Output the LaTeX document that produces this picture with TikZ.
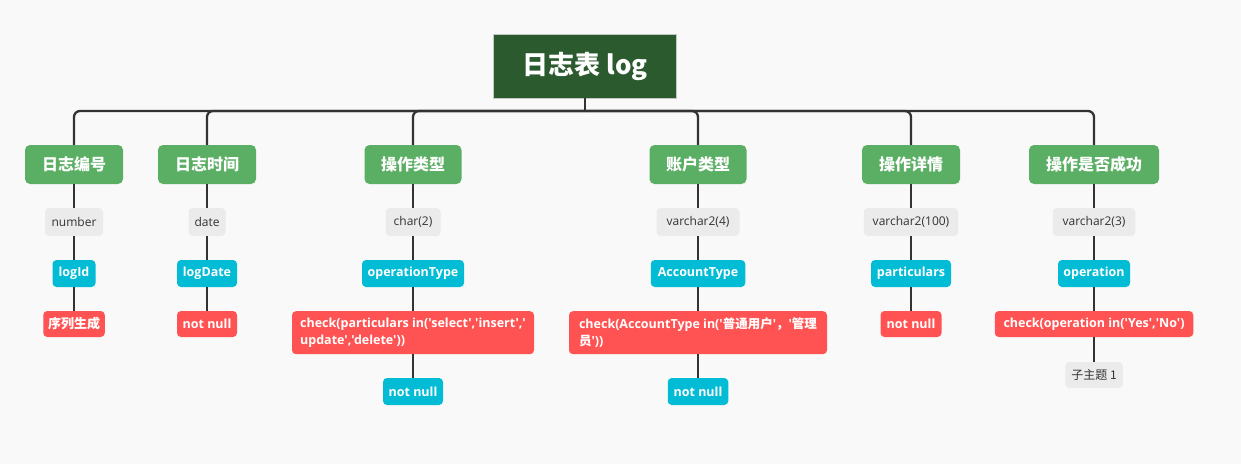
\documentclass[tikz,border=0pt]{standalone}
\usepackage{fontspec}
\newfontfamily\lat{Open Sans}
\newfontfamily\cjk{Noto Sans CJK SC}
\definecolor{bgc}{HTML}{F9F9F9}
\definecolor{rootc}{HTML}{2B5A2E}
\definecolor{greenc}{HTML}{5BAF64}
\definecolor{cyanc}{HTML}{02BCD6}
\definecolor{redc}{HTML}{FF5353}
\definecolor{grayc}{HTML}{EBEBEB}
\definecolor{txtc}{HTML}{333333}
\definecolor{linec}{HTML}{333333}
\begin{document}
\begin{tikzpicture}[x=1pt,y=-1pt,
  base/.style={inner sep=0pt, rounded corners=4pt, align=center},
  rootbox/.style={fill=rootc, draw=gray!45, line width=0.6pt, text=white, minimum width=183pt, minimum height=64pt, inner sep=0pt, font=\cjk\bfseries\fontsize{26}{30}\selectfont},
  topic/.style={base, fill=greenc, text=white, minimum height=39pt, rounded corners=5pt, font=\cjk\bfseries\fontsize{16}{18}\selectfont},
  dtype/.style={base, fill=grayc, text=txtc, minimum height=28pt, font=\lat\fontsize{12}{14}\selectfont},
  field/.style={base, fill=cyanc, text=white, minimum height=27pt, font=\lat\bfseries\fontsize{12.5}{14}\selectfont},
  cons/.style={base, fill=redc, text=white, minimum height=26pt, font=\lat\bfseries\fontsize{12.5}{16.5}\selectfont},
  sub/.style={base, fill=grayc, text=txtc, minimum height=26pt, font=\cjk\fontsize{12}{14}\selectfont},
  bus/.style={draw=linec, line width=2.3pt, rounded corners=6pt},
  link/.style={draw=linec, line width=1.5pt}
]
\path[fill=bgc] (0,0) rectangle (1241,464);

\node[rootbox] (root) at (585,66) {日志表 log};
\coordinate (hub) at (585,111);

% level 1
\node[topic, minimum width=98pt] (t1) at (74,164.5) {日志编号};
\node[topic, minimum width=98pt] (t2) at (207,164.5) {日志时间};
\node[topic, minimum width=97pt] (t3) at (413,164.5) {操作类型};
\node[topic, minimum width=97pt] (t4) at (698,164.5) {账户类型};
\node[topic, minimum width=98pt] (t5) at (911,164.5) {操作详情};
\node[topic, minimum width=130pt] (t6) at (1094,164.5) {操作是否成功};

% level 2
\node[dtype, minimum width=58pt] (d1) at (74,222) {number};
\node[dtype, minimum width=37pt] (d2) at (207,222) {date};
\node[dtype, minimum width=55pt] (d3) at (413,222) {char(2)};
\node[dtype, minimum width=83pt] (d4) at (698,222) {varchar2(4)};
\node[dtype, minimum width=94.5pt] (d5) at (911,222) {varchar2(100)};
\node[dtype, minimum width=82.5pt] (d6) at (1094,222) {varchar2(3)};

% level 3
\node[field, minimum width=43pt] (f1) at (74,273.5) {logId};
\node[field, minimum width=60pt] (f2) at (207,273.5) {logDate};
\node[field, minimum width=102pt] (f3) at (413,273.5) {operationType};
\node[field, minimum width=94.5pt] (f4) at (698,273.5) {AccountType};
\node[field, minimum width=80pt] (f5) at (911,273.5) {particulars};
\node[field, minimum width=72pt] (f6) at (1094,273.5) {operation};

% level 4
\node[cons, minimum width=61.5pt, font=\cjk\bfseries\fontsize{13}{15}\selectfont] (c1) at (74,324) {序列生成};
\node[cons, minimum width=60pt] (c2) at (207,324) {not null};
\node[cons, minimum width=242pt, minimum height=43pt, anchor=north, align=left] (c3) at (413,311)
  {check(particulars in('select','insert','\\update','delete'))};
\node[cons, minimum width=258pt, minimum height=43pt, anchor=north, align=left] (c4) at (698,311)
  {check(AccountType in('{\cjk 普通用户}'{\cjk ，}'{\cjk 管理}\\{\cjk 员}'))};
\node[cons, minimum width=61pt] (c5) at (911,324) {not null};
\node[cons, minimum width=198.5pt] (c6) at (1094,324) {check(operation in('Yes','No')};

% level 5
\node[field, minimum width=60pt] (n3) at (413,391.5) {not null};
\node[field, minimum width=60.5pt] (n4) at (698,391.5) {not null};
\node[sub, minimum width=57.5pt] (s6) at (1094,375) {子主题 1};

% connectors
\draw[draw=linec, line width=2.3pt] (root.south) -- (hub);
\foreach \k in {1,...,6} {
  \draw[bus] (hub) -| (t\k.north);
  \draw[link] (t\k.south) -- (d\k.north);
  \draw[link] (d\k.south) -- (f\k.north);
  \draw[link] (f\k.south) -- (c\k.north);
}
\draw[link] (c3.south) -- (n3.north);
\draw[link] (c4.south) -- (n4.north);
\draw[link] (c6.south) -- (s6.north);
\end{tikzpicture}
\end{document}
